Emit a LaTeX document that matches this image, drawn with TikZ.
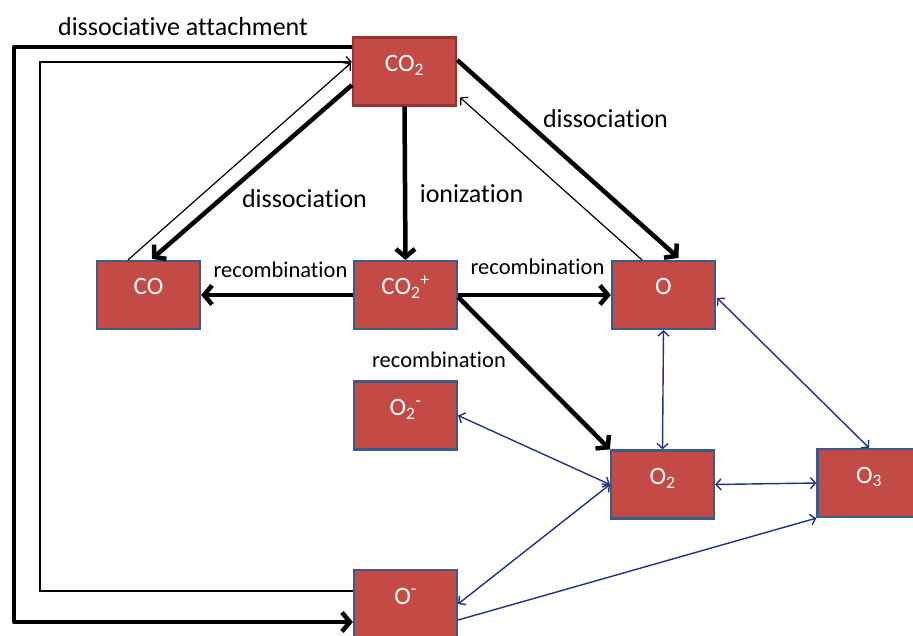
\documentclass[tikz,border=0pt]{standalone}
\usepackage{fontspec}
\setmainfont[Ligatures=NoCommon]{Carlito}
\usetikzlibrary{arrows.meta,calc}
\definecolor{boxred}{RGB}{196,74,70}
\definecolor{boxblue}{RGB}{56,93,138}
\definecolor{boxdark}{RGB}{150,52,50}
\definecolor{navy}{RGB}{34,50,130}
\tikzset{
  species/.style={rectangle, fill=boxred, draw=boxblue, line width=2.2pt,
    minimum width=103pt, minimum height=68pt, inner sep=0pt, text=white,
    font=\fontsize{25}{25}\selectfont, text height=10pt, text depth=10pt},
  heavy/.style={line width=4.5pt, line join=round, -{Straight Barb[length=8pt,width=19pt]}},
  light/.style={line width=1.2pt, -{Straight Barb[length=5pt,width=11pt]}},
  bluedbl/.style={navy, line width=1.4pt, {Straight Barb[length=5pt,width=11pt]}-{Straight Barb[length=5pt,width=11pt]}},
  bluesgl/.style={navy, line width=1.4pt, -{Straight Barb[length=5pt,width=11pt]}},
  lbl/.style={anchor=base, inner sep=0pt, font=\fontsize{26}{26}\selectfont},
  slbl/.style={anchor=base, inner sep=0pt, font=\fontsize{22.5}{22.5}\selectfont}
}
\begin{document}
\begin{tikzpicture}[x=1pt,y=-1pt]
\fill[white] (0,0) rectangle (913,636);
\useasboundingbox (0,0) rectangle (913,636);

% species
\node[species, draw=boxdark] (CO2) at (404.5,71.5) {CO\textsubscript{2}};
\node[species] (CO) at (148.5,295) {CO};
\node[species] (CO2p) at (405.5,295) {CO\textsubscript{2}\textsuperscript{+}};
\node[species] (O) at (663.5,295) {O};
\node[species] (O2m) at (405.5,415.5) {O\textsubscript{2}\textsuperscript{-}};
\node[species] (O2) at (662.5,484.5) {O\textsubscript{2}};
\node[species] (O3) at (869,483) {O\textsubscript{3}};
\node[species] (Om) at (405.5,604) {O\textsuperscript{-}};

% routing corners
\coordinate (da1) at (14,47);
\coordinate (da2) at (14,622);
\coordinate (t1) at (40,62);
\coordinate (t2) at (40,591);

% dissociative attachment loop
\draw[heavy] (CO2.west |- da1) -- (da1) -- (da2) -- (Om.west |- da2);
\draw[light] (Om.west |- t2) -- (t2) -- (t1) -- (CO2.west |- t1);

% CO2 <-> CO
\draw[heavy] ($(CO2.west)+(0,13.5)$) -- ($(CO.north)+(3.5,-1)$);
\draw[light] ($(CO.north)+(-20.5,0)$) -- ($(CO2.west)+(-1,-8.5)$);

% CO2 -> CO2+
\draw[heavy] (CO2.south) -- (CO2p.north);

% CO2 <-> O
\draw[heavy] ($(CO2.east)+(0,-11.5)$) -- ($(O.north)+(15,-2)$);
\draw[light] ($(O.north)+(-21.5,0)$) -- ($(CO2.east)+(3,26)$);

% recombinations
\draw[heavy] (CO2p.west) -- (CO.east);
\draw[heavy] (CO2p.east) -- (O.west);
\draw[heavy] ($(CO2p.east)+(0,2)$) -- (O2.north west);

% blue reactions
\draw[bluedbl] (O.south) -- (O2.north);
\draw[bluedbl] ($(O.east)+(1,3)$) -- (O3.north);
\draw[bluedbl] (O2m.east) -- (O2.west);
\draw[bluedbl] (O2.east) -- (O3.west);
\draw[bluedbl] (O2.west) -- (Om.east);
\draw[bluesgl] ($(Om.east)+(0,16)$) -- (O3.south west);

% labels
\node[lbl] (lda) at (183,36) {dissociative attachment};
\node[lbl] (ld1) at (304.5,208) {dissociation};
\node[lbl] (lion) at (471.5,203) {ionization};
\node[lbl] (ld2) at (605.5,128) {dissociation};
\node[slbl] (lr1) at (280.5,278) {recombination};
\node[slbl] (lr2) at (537.5,275) {recombination};
\node[slbl] (lr3) at (439,367) {recombination};
\end{tikzpicture}
\end{document}
